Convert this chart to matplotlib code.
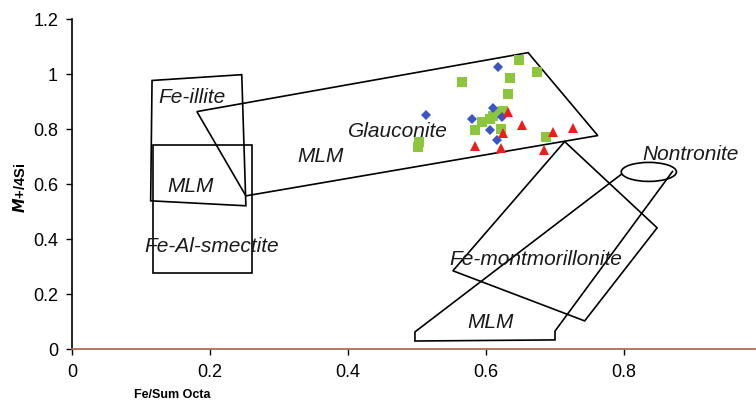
import matplotlib
matplotlib.use("Agg")
import matplotlib.pyplot as plt
from matplotlib.patches import Polygon, Ellipse

plt.rcParams['font.family'] = ['Liberation Sans', 'DejaVu Sans']

# Data points (Fe/Sum Octa, M+/4Si)
blue_x = [0.617, 0.513, 0.580, 0.610, 0.606, 0.616, 0.623]
blue_y = [1.024, 0.850, 0.835, 0.875, 0.795, 0.759, 0.842]

green_x = [0.648, 0.674, 0.635, 0.565, 0.632, 0.617, 0.625, 0.610, 0.606,
           0.594, 0.584, 0.622, 0.687, 0.503, 0.501]
green_y = [1.049, 1.006, 0.984, 0.969, 0.926, 0.860, 0.864, 0.846, 0.835,
           0.824, 0.795, 0.799, 0.770, 0.751, 0.733]

red_x = [0.632, 0.652, 0.625, 0.697, 0.726, 0.584, 0.622, 0.684]
red_y = [0.860, 0.813, 0.784, 0.788, 0.802, 0.737, 0.730, 0.722]

# Field outlines
fe_illite = [(0.116, 0.975), (0.246, 0.996), (0.252, 0.520), (0.114, 0.538)]
fe_al_smectite = [(0.117, 0.742), (0.261, 0.742), (0.261, 0.276), (0.117, 0.276)]
glauconite = [(0.181, 0.862), (0.661, 1.076), (0.762, 0.775), (0.252, 0.556)]
fe_montmorillonite = [(0.714, 0.753), (0.848, 0.440), (0.743, 0.102), (0.552, 0.284)]
nontronite_mlm = [(0.797, 0.636), (0.497, 0.062), (0.497, 0.029), (0.700, 0.033),
                  (0.700, 0.065), (0.871, 0.647)]
nontronite_center = (0.836, 0.643)
nontronite_size = (0.080, 0.069)

labels = [
    ("Fe-illite", 0.174, 0.918),
    ("MLM", 0.172, 0.593),
    ("Fe-Al-smectite", 0.203, 0.377),
    ("Glauconite", 0.472, 0.793),
    ("MLM", 0.360, 0.702),
    ("Nontronite", 0.897, 0.711),
    ("Fe-montmorillonite", 0.672, 0.327),
    ("MLM", 0.607, 0.100),
]

xticks = [0, 0.2, 0.4, 0.6, 0.8]
xticklabels = ["0", "0.2", "0.4", "0.6", "0.8"]
yticks = [0, 0.2, 0.4, 0.6, 0.8, 1.0, 1.2]
yticklabels = ["0", "0.2", "0.4", "0.6", "0.8", "1", "1.2"]

fig = plt.figure(figsize=(7.56, 4.06), dpi=100)
W, H = 756, 406
x0px, x1px = 72, 755
ax = fig.add_axes([x0px / W, (H - 350) / H, (x1px - x0px) / W, 330.5 / H])
ax.set_xlim(0, (x1px - x0px) / 690)
ax.set_ylim(0, 1.2)

for poly in [fe_illite, fe_al_smectite, glauconite, fe_montmorillonite]:
    ax.add_patch(Polygon(poly, closed=True, fill=False, edgecolor='black', lw=1.2))
ax.add_patch(Polygon(nontronite_mlm, closed=False, fill=False, edgecolor='black', lw=1.2))
ax.add_patch(Ellipse(nontronite_center, nontronite_size[0], nontronite_size[1],
                     fill=False, edgecolor='black', lw=1.2))

for txt, x, y in labels:
    ax.text(x, y, txt, fontsize=15, style='italic', ha='center', va='center', color='#1a1a1a')

ax.plot(green_x, green_y, 's', color='#8cc63e', markersize=7, markeredgewidth=0, zorder=3)
ax.plot(blue_x, blue_y, 'D', color='#3b55c4', markersize=5.5, markeredgewidth=0, zorder=4)
ax.plot(red_x, red_y, '^', color='#f01c1c', markersize=7.5, markeredgewidth=0, zorder=4)

ax.set_xticks(xticks)
ax.set_xticklabels(xticklabels, fontsize=13)
ax.set_yticks(yticks)
ax.set_yticklabels(yticklabels, fontsize=13)
ax.tick_params(direction='out', length=4, width=1, pad=6)

for s in ['top', 'right']:
    ax.spines[s].set_visible(False)
ax.spines['bottom'].set_color('#b06a58')
ax.spines['bottom'].set_linewidth(1.3)
ax.spines['left'].set_color('black')
ax.spines['left'].set_linewidth(1.2)

fig.text(172 / W, 1 - 395 / H, "Fe/Sum Octa", fontsize=9, fontweight='bold',
         ha='center', va='center')
fig.text(20 / W, 1 - 188 / H, r"$\boldsymbol{M}$+/4Si", fontsize=10.5, fontweight='bold',
         rotation=90, ha='center', va='center')

fig.savefig("out.png", dpi=100)
